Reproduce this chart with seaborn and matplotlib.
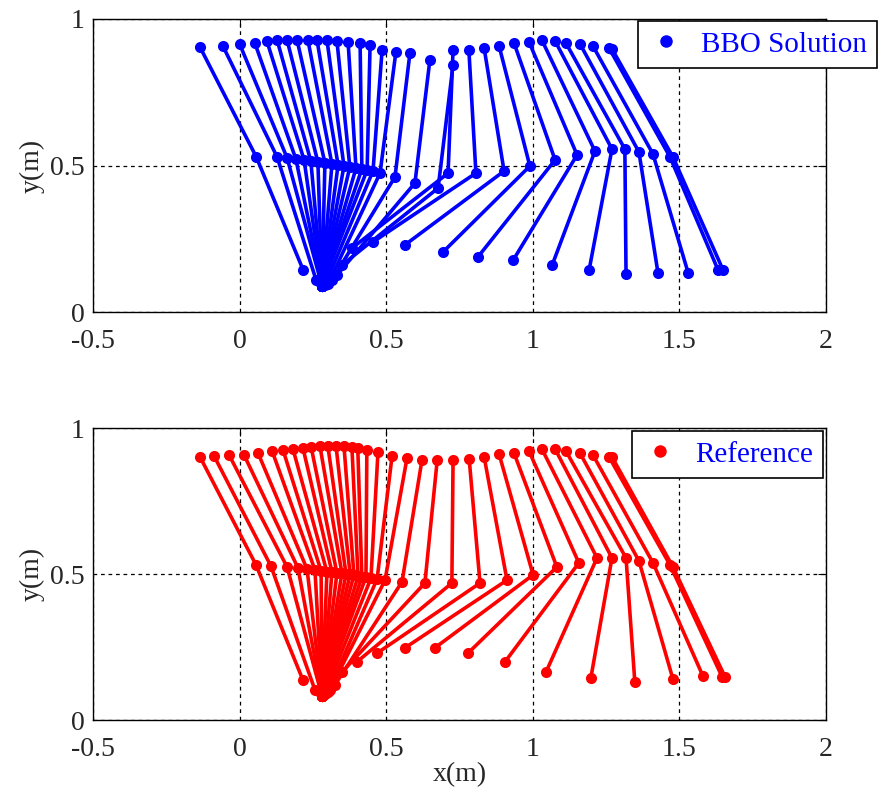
import numpy as np
import pandas as pd
import matplotlib
matplotlib.use("Agg")
import matplotlib.pyplot as plt
from matplotlib.lines import Line2D
import seaborn as sns

# ---------------- data (m) ----------------
# BBO solution: hip, knee, foot per frame
bbo_hip_x = [-0.135, -0.057, 0.000, 0.052, 0.093, 0.128, 0.162, 0.196, 0.233, 0.264, 0.298,
             0.332, 0.370, 0.411, 0.445, 0.486, 0.533, 0.581, 0.649, 0.728, 0.728, 0.782,
             0.834, 0.885, 0.936, 0.987, 1.031, 1.076, 1.113, 1.161, 1.205, 1.260, 1.270]
bbo_hip_y = [0.904, 0.908, 0.915, 0.918, 0.925, 0.928, 0.928, 0.928, 0.928, 0.928, 0.928,
             0.925, 0.922, 0.918, 0.911, 0.894, 0.887, 0.884, 0.860, 0.843, 0.894, 0.894,
             0.901, 0.908, 0.918, 0.922, 0.928, 0.925, 0.918, 0.915, 0.908, 0.901, 0.898]
bbo_knee_x = [0.057, 0.128, 0.162, 0.192, 0.220, 0.243, 0.267, 0.291, 0.315, 0.336, 0.356,
              0.376, 0.397, 0.417, 0.435, 0.455, 0.479, 0.530, 0.598, 0.677, 0.711, 0.806,
              0.902, 0.990, 1.076, 1.151, 1.212, 1.270, 1.314, 1.362, 1.410, 1.468, 1.478]
bbo_knee_y = [0.529, 0.529, 0.526, 0.522, 0.519, 0.515, 0.512, 0.509, 0.505, 0.502, 0.498,
              0.495, 0.491, 0.488, 0.485, 0.481, 0.474, 0.461, 0.440, 0.423, 0.474, 0.474,
              0.481, 0.498, 0.519, 0.536, 0.549, 0.556, 0.556, 0.546, 0.539, 0.529, 0.529]
bbo_foot_x = [0.217, 0.261, 0.281, 0.281, 0.281, 0.281, 0.281, 0.281, 0.281, 0.281, 0.281,
              0.281, 0.281, 0.281, 0.281, 0.291, 0.302, 0.315, 0.332, 0.349, 0.383, 0.455,
              0.564, 0.694, 0.813, 0.933, 1.066, 1.192, 1.318, 1.427, 1.530, 1.632, 1.649]
bbo_foot_y = [0.143, 0.109, 0.089, 0.089, 0.089, 0.089, 0.089, 0.089, 0.089, 0.089, 0.089,
              0.089, 0.089, 0.089, 0.089, 0.092, 0.096, 0.109, 0.126, 0.160, 0.218, 0.239,
              0.229, 0.205, 0.188, 0.177, 0.160, 0.143, 0.130, 0.133, 0.133, 0.143, 0.143]

# Reference: hip, knee, foot per frame
ref_hip_x = [-0.135, -0.087, -0.036, 0.015, 0.063, 0.111, 0.148, 0.182, 0.216, 0.244, 0.274,
             0.301, 0.329, 0.356, 0.383, 0.403, 0.434, 0.472, 0.520, 0.571, 0.622, 0.674,
             0.728, 0.783, 0.834, 0.885, 0.936, 0.987, 1.031, 1.076, 1.113, 1.161, 1.205,
             1.260, 1.270]
ref_hip_y = [0.901, 0.904, 0.908, 0.908, 0.914, 0.921, 0.925, 0.928, 0.932, 0.935, 0.938,
             0.938, 0.938, 0.938, 0.935, 0.932, 0.925, 0.918, 0.904, 0.897, 0.890, 0.890,
             0.890, 0.894, 0.901, 0.911, 0.914, 0.921, 0.928, 0.928, 0.921, 0.914, 0.908,
             0.901, 0.901]
ref_knee_x = [0.056, 0.107, 0.162, 0.199, 0.230, 0.257, 0.278, 0.298, 0.315, 0.332, 0.349,
              0.363, 0.377, 0.390, 0.404, 0.417, 0.431, 0.448, 0.469, 0.496, 0.554, 0.632,
              0.724, 0.820, 0.912, 1.001, 1.082, 1.157, 1.219, 1.270, 1.318, 1.362, 1.410,
              1.468, 1.478]
ref_knee_y = [0.531, 0.527, 0.524, 0.521, 0.517, 0.514, 0.510, 0.507, 0.507, 0.503, 0.503,
              0.500, 0.500, 0.497, 0.493, 0.490, 0.490, 0.486, 0.483, 0.479, 0.473, 0.469,
              0.469, 0.469, 0.479, 0.497, 0.524, 0.538, 0.555, 0.555, 0.555, 0.545, 0.538,
              0.531, 0.524]
ref_foot_x = [0.216, 0.257, 0.281, 0.281, 0.281, 0.281, 0.281, 0.281, 0.281, 0.281, 0.281,
              0.281, 0.281, 0.281, 0.281, 0.281, 0.281, 0.291, 0.302, 0.308, 0.325, 0.349,
              0.400, 0.469, 0.564, 0.666, 0.779, 0.905, 1.045, 1.198, 1.348, 1.478, 1.580,
              1.646, 1.656]
ref_foot_y = [0.137, 0.103, 0.082, 0.082, 0.082, 0.082, 0.082, 0.082, 0.082, 0.082, 0.082,
              0.082, 0.082, 0.082, 0.082, 0.082, 0.082, 0.089, 0.096, 0.103, 0.120, 0.164,
              0.199, 0.229, 0.247, 0.247, 0.229, 0.199, 0.164, 0.144, 0.130, 0.140, 0.151,
              0.147, 0.147]

x_ticks = [-0.5, 0, 0.5, 1, 1.5, 2]
x_tick_labels = ["-0.5", "0", "0.5", "1", "1.5", "2"]
y_ticks = [0, 0.5, 1]
y_tick_labels = ["0", "0.5", "1"]
series_labels = ["BBO Solution", "Reference"]
series_colors = ["#0000FF", "#FF0000"]


def to_long(hx, hy, kx, ky, fx, fy):
    rows = []
    for i in range(len(hx)):
        rows.append((i, 0, hx[i], hy[i]))
        rows.append((i, 1, kx[i], ky[i]))
        rows.append((i, 2, fx[i], fy[i]))
    return pd.DataFrame(rows, columns=["frame", "joint", "x", "y"])


df_bbo = to_long(bbo_hip_x, bbo_hip_y, bbo_knee_x, bbo_knee_y, bbo_foot_x, bbo_foot_y)
df_ref = to_long(ref_hip_x, ref_hip_y, ref_knee_x, ref_knee_y, ref_foot_x, ref_foot_y)

# ---------------- style ----------------
sns.set_style("white")
plt.rcParams["font.family"] = ["Liberation Serif", "DejaVu Serif"]

FS = 20
W, H = 881, 790
fig = plt.figure(figsize=(W / 100, H / 100), dpi=100)

ax_top = fig.add_axes([93 / W, 1 - 312 / H, 733 / W, 293 / H])
ax_bot = fig.add_axes([93 / W, 1 - 720 / H, 733 / W, 292 / H])

configs = [
    (ax_top, df_bbo, series_colors[0], series_labels[0], (1.0696, 0.993)),
    (ax_bot, df_ref, series_colors[1], series_labels[1], (0.996, 0.990)),
]

for ax, df, col, lab, anchor in configs:
    sns.lineplot(data=df, x="x", y="y", units="frame", estimator=None, sort=False,
                 color=col, lw=2.6, marker="o", markersize=8, markeredgewidth=0,
                 ax=ax, legend=False, zorder=3)
    ax.set_xlim(-0.5, 2)
    ax.set_ylim(0, 1)
    ax.set_xticks(x_ticks)
    ax.set_xticklabels(x_tick_labels, fontsize=FS)
    ax.set_yticks(y_ticks)
    ax.set_yticklabels(y_tick_labels, fontsize=FS)
    ax.tick_params(direction="in", length=6, width=0.8, color="black",
                   top=True, right=True)
    ax.tick_params(axis="x", pad=12)
    ax.tick_params(axis="y", pad=6)
    ax.grid(True, color="black", linestyle=(0, (3, 3)), linewidth=0.9)
    ax.set_axisbelow(True)
    for s in ax.spines.values():
        s.set_color("black")
        s.set_linewidth(1.0)
        s.set_visible(True)
    ax.set_ylabel("y(m)", fontsize=FS, labelpad=4)
    ax.set_xlabel("")
    handle = Line2D([], [], marker="o", linestyle="none", color=col,
                    markersize=9, markeredgewidth=0)
    leg = ax.legend([handle], [lab], loc="upper right", bbox_to_anchor=anchor,
                    borderaxespad=0, fancybox=False, framealpha=1, edgecolor="black",
                    fontsize=FS + 1, labelcolor="#0000FF", handlelength=1.2,
                    handletextpad=0.6, borderpad=0.35)
    leg.get_frame().set_linewidth(1.2)
    leg.set_zorder(10)

ax_bot.set_xlabel("x(m)", fontsize=FS, labelpad=0)

fig.savefig("out.png", dpi=100)
